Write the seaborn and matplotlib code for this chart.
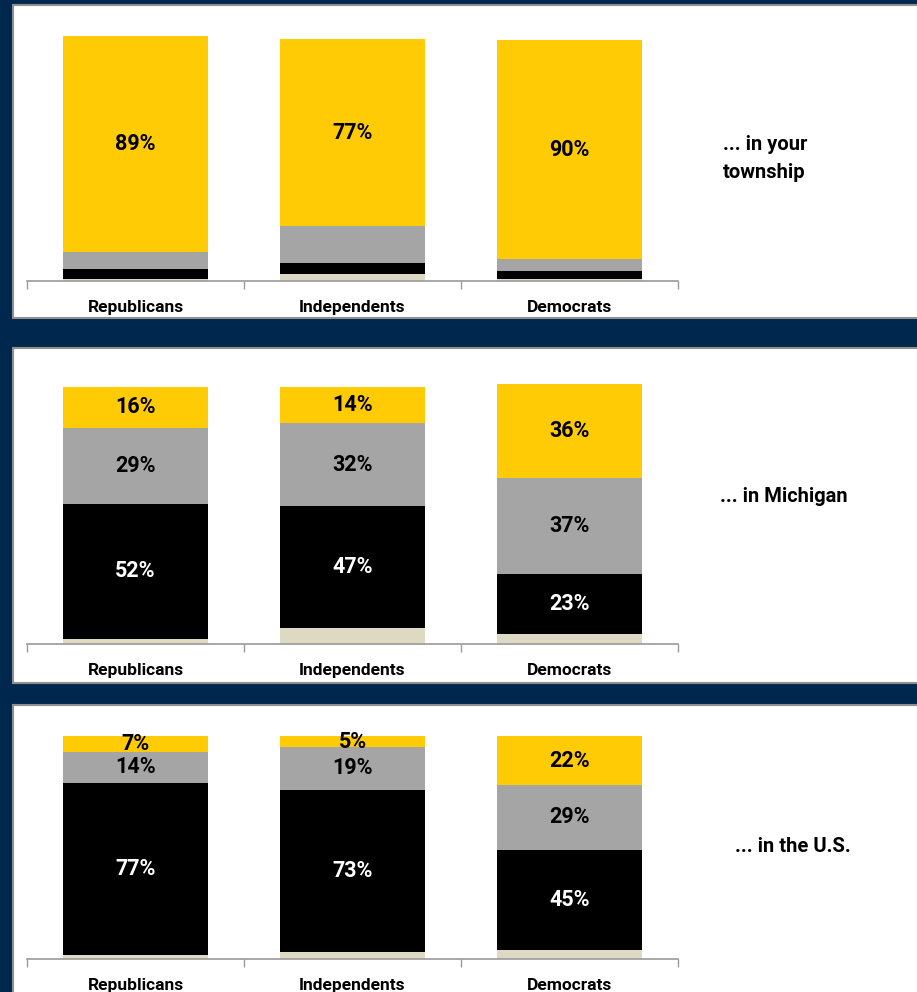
import pandas as pd
import matplotlib.pyplot as plt
import seaborn as sns
from matplotlib.patches import Rectangle
from matplotlib.ticker import FixedLocator

# bar groups
groups = ['Republicans', 'Independents', 'Democrats']

# stacked segments, bottom to top: beige, black, grey, yellow
township_beige = [1, 3, 1]
township_black = [4, 4.5, 3]
township_grey = [7, 15, 5]
township_yellow = [89, 77, 90]

michigan_beige = [2, 6, 4]
michigan_black = [52, 47, 23]
michigan_grey = [29, 32, 37]
michigan_yellow = [16, 14, 36]

us_beige = [2, 3, 4]
us_black = [77, 73, 45]
us_grey = [14, 19, 29]
us_yellow = [7, 5, 22]

panel_titles = ['... in your\ntownship', '... in Michigan', '... in the U.S.']

NAVY = '#00284f'
YELLOW = '#ffcb05'
GREY = '#a5a5a5'
BLACK = '#000000'
BEIGE = '#ddd9c3'

sns.set_theme(style='white')
plt.rcParams['font.family'] = ['Roboto', 'DejaVu Sans']

W, H = 917, 992
fig = plt.figure(figsize=(W / 100, H / 100), dpi=100, facecolor=NAVY)


def px_rect(x0, y0, x1, y1):
    # pixel box (top-left origin) -> figure fraction [left, bottom, width, height]
    return [x0 / W, 1 - y1 / H, (x1 - x0) / W, (y1 - y0) / H]


def draw_panel(box, ax_box, ymax, beige, black, grey, yellow, labelled, title, title_xy):
    l, b, w, h = px_rect(*box)
    fig.add_artist(Rectangle((l, b), w, h, transform=fig.transFigure,
                             facecolor='white', edgecolor='#8f8f8f', lw=1.5, zorder=0))
    ax = fig.add_axes(px_rect(*ax_box))
    ax.patch.set_alpha(0)

    df = pd.DataFrame({'group': groups, 'beige': beige, 'black': black,
                       'grey': grey, 'yellow': yellow})
    df['c_black'] = df['beige'] + df['black']
    df['c_grey'] = df['c_black'] + df['grey']
    df['c_yellow'] = df['c_grey'] + df['yellow']

    # draw cumulative heights from tallest to shortest so they stack
    for col, color in [('c_yellow', YELLOW), ('c_grey', GREY),
                       ('c_black', BLACK), ('beige', BEIGE)]:
        sns.barplot(data=df, x='group', y=col, color=color, width=0.67,
                    saturation=1, ax=ax, linewidth=0)

    for seg, base, txtcol in [('yellow', 'c_grey', 'black'),
                              ('grey', 'c_black', 'black'),
                              ('black', 'beige', 'white')]:
        if seg not in labelled:
            continue
        for i, v in enumerate(df[seg]):
            ax.text(i, df[base][i] + v / 2, f'{v:.0f}%', ha='center', va='center',
                    fontsize=15.5, fontweight='bold', color=txtcol)

    ax.set_xlim(-0.5, 2.5)
    ax.set_ylim(0, ymax)
    ax.set_xlabel('')
    ax.set_ylabel('')
    ax.set_yticks([])
    for s in ['top', 'right', 'left']:
        ax.spines[s].set_visible(False)
    ax.spines['bottom'].set_color('#9a9a9a')
    ax.spines['bottom'].set_linewidth(1.2)
    ax.xaxis.set_minor_locator(FixedLocator([-0.5, 0.5, 1.5, 2.5]))
    ax.tick_params(axis='x', which='minor', bottom=True, length=6, width=1, color='#9a9a9a')
    ax.tick_params(axis='x', which='major', bottom=False, length=0, pad=14)
    for t in ax.get_xticklabels():
        t.set_fontsize(12.5)
        t.set_fontweight('bold')
        t.set_color('black')

    fig.text(title_xy[0] / W, 1 - title_xy[1] / H, title, ha='left', va='center',
             fontsize=14.5, fontweight='bold', color='black', linespacing=1.6)


draw_panel((13, 5, 930, 318), (27, 30, 678, 281), (281 - 30) / 2.43,
           township_beige, township_black, township_grey, township_yellow,
           ['yellow'], panel_titles[0], (723, 158))
draw_panel((13, 348, 930, 683), (27, 380, 678, 644), (644 - 380) / 2.6,
           michigan_beige, michigan_black, michigan_grey, michigan_yellow,
           ['yellow', 'grey', 'black'], panel_titles[1], (720, 496))
draw_panel((13, 705, 930, 1000), (27, 730, 678, 959), (959 - 730) / 2.23,
           us_beige, us_black, us_grey, us_yellow,
           ['yellow', 'grey', 'black'], panel_titles[2], (735, 846))

fig.savefig('out.png', dpi=100, facecolor=NAVY)
